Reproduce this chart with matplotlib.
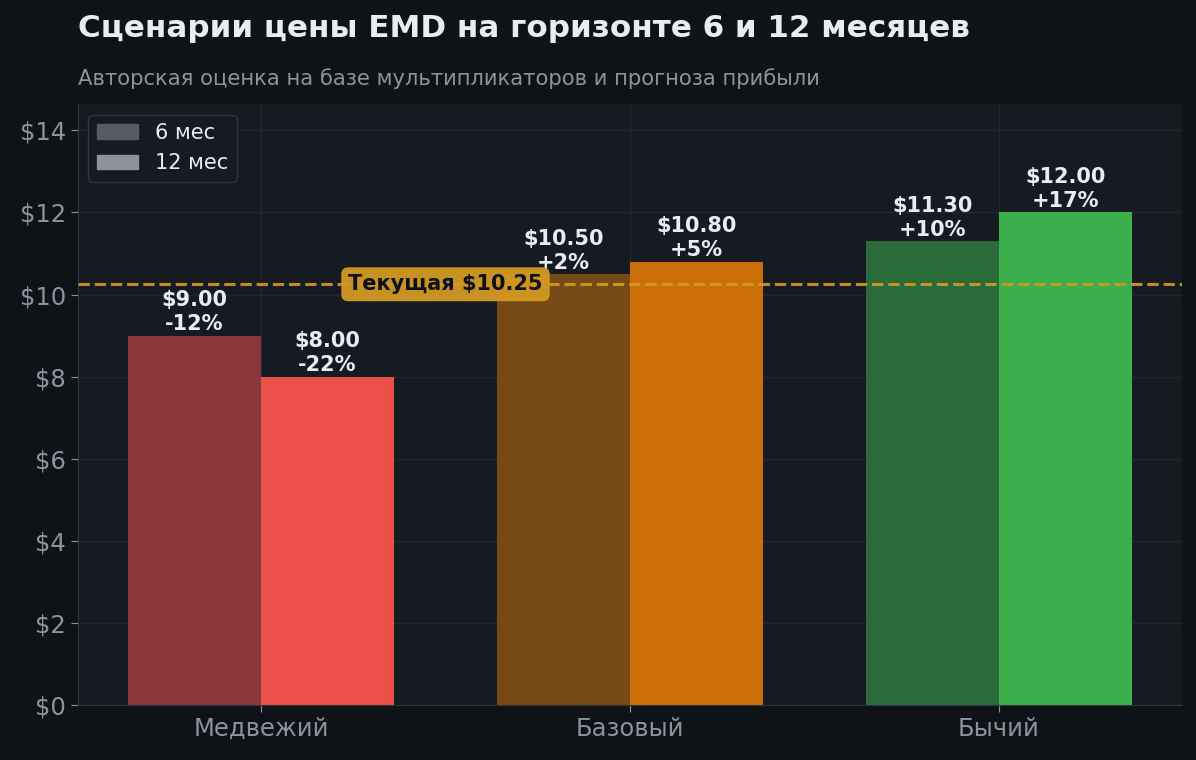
import matplotlib.pyplot as plt
import numpy as np

plt.rcParams["font.family"] = ["DejaVu Sans"]

# данные
scenarios = ["Медвежий", "Базовый", "Бычий"]
price_6m = [9.00, 10.50, 11.30]
price_12m = [8.00, 10.80, 12.00]
current_price = 10.25

# цвета
bg_fig = "#0f1317"
bg_ax = "#161b22"
text_main = "#e6edf3"
text_dim = "#8b949e"
grid_col = "#30363d"
colors_6m = ["#8a363a", "#774a15", "#2b6a3b"]
colors_12m = ["#ea4f48", "#cc6f08", "#3caf4d"]
line_col = "#d29922"

fig = plt.figure(figsize=(11.96, 7.6), dpi=100, facecolor=bg_fig)
ax = fig.add_axes([0.0652, 0.0724, 0.9231, 0.7906])
ax.set_facecolor(bg_ax)

x = np.arange(len(scenarios))
w = 0.36

bars6 = ax.bar(x - w / 2, price_6m, w, color=colors_6m, zorder=2)
bars12 = ax.bar(x + w / 2, price_12m, w, color=colors_12m, zorder=2)

# подписи над столбцами
for bars, vals in [(bars6, price_6m), (bars12, price_12m)]:
    for b, v in zip(bars, vals):
        pct = (v / current_price - 1) * 100
        ax.annotate(f"${v:.2f}\n{pct:+.0f}%",
                    xy=(b.get_x() + b.get_width() / 2, v),
                    xytext=(0, 1), textcoords="offset points",
                    ha="center", va="bottom", fontsize=15, fontweight="bold",
                    color=text_main, linespacing=1.25, zorder=5)

# текущая цена
ax.axhline(current_price, color=line_col, ls="--", lw=2.2, alpha=0.9, zorder=3)
ax.text(0.5, current_price, f"Текущая ${current_price:.2f}", ha="center", va="center",
        fontsize=15, fontweight="bold", color="#0d1117", zorder=6,
        bbox=dict(boxstyle="round,pad=0.3", fc=line_col, ec=line_col, alpha=0.95))

ax.set_ylim(0, max(price_12m) * 1.22)
ax.set_xticks(x)
ax.set_xticklabels(scenarios, fontsize=17.5, color=text_dim)
ax.set_yticks(np.arange(0, 15, 2))
ax.set_yticklabels([f"${t}" for t in range(0, 15, 2)], fontsize=17.5, color=text_dim)
ax.tick_params(colors=text_dim, length=5)

ax.grid(True, color=grid_col, alpha=0.45, lw=1, zorder=0)
ax.set_axisbelow(True)
for s in ["top", "right"]:
    ax.spines[s].set_visible(False)
for s in ["left", "bottom"]:
    ax.spines[s].set_color(grid_col)

# легенда
h6 = plt.Rectangle((0, 0), 1, 1, color="#565c66")
h12 = plt.Rectangle((0, 0), 1, 1, color="#8b929b")
leg = ax.legend([h6, h12], ["6 мес", "12 мес"], loc="upper left", fontsize=15,
                facecolor=bg_ax, edgecolor=grid_col, framealpha=1, labelcolor=text_main)

fig.text(0.0652, 0.963, "Сценарии цены EMD на горизонте 6 и 12 месяцев",
         fontsize=22.3, fontweight="bold", color=text_main, ha="left", va="center")
fig.text(0.0652, 0.897, "Авторская оценка на базе мультипликаторов и прогноза прибыли",
         fontsize=15.2, color=text_dim, ha="left", va="center")

fig.savefig("out.png", dpi=100, facecolor=bg_fig)
